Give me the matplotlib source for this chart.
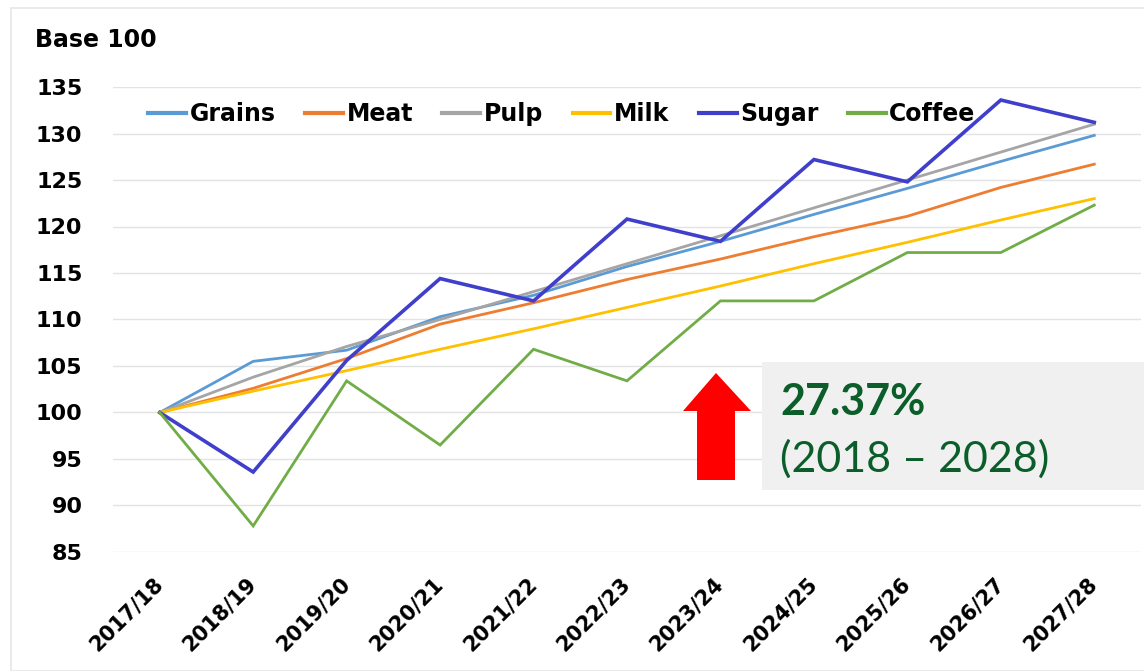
import matplotlib.pyplot as plt
import matplotlib.patches as mpatches

seasons = ['2017/18', '2018/19', '2019/20', '2020/21', '2021/22', '2022/23',
           '2023/24', '2024/25', '2025/26', '2026/27', '2027/28']

grains = [100, 105.5, 106.7, 110.3, 112.6, 115.7, 118.4, 121.3, 124.1, 127.0, 129.8]
meat = [100, 102.6, 105.8, 109.5, 111.8, 114.3, 116.5, 118.9, 121.1, 124.2, 126.7]
pulp = [100, 103.8, 107.1, 110.0, 113.0, 116.0, 119.0, 122.0, 125.0, 128.0, 131.0]
milk = [100, 102.3, 104.5, 106.8, 109.0, 111.3, 113.6, 116.0, 118.3, 120.7, 123.0]
sugar = [100, 93.6, 105.6, 114.4, 112.0, 120.8, 118.4, 127.2, 124.8, 133.6, 131.2]
coffee = [100, 87.8, 103.4, 96.5, 106.8, 103.4, 112.0, 112.0, 117.2, 117.2, 122.3]

series = [('Grains', grains, '#5B9BD5', 2.0),
          ('Meat', meat, '#ED7D31', 2.0),
          ('Pulp', pulp, '#A5A5A5', 2.0),
          ('Milk', milk, '#FFC000', 2.0),
          ('Sugar', sugar, '#3F3FCC', 2.6),
          ('Coffee', coffee, '#70AD47', 2.0)]

highlight = '27.37%'
period = '(2018 \u2013 2028)'

W, H = 1144, 671
FONT = 'DejaVu Sans'
fig = plt.figure(figsize=(W / 100, H / 100), dpi=100)
fig.patch.set_facecolor('white')

# thin frame round the chart
fig.add_artist(mpatches.Rectangle((11 / W, 0), 1.5, (H - 8) / H, transform=fig.transFigure,
                                  fill=False, edgecolor='#E6E6E6', linewidth=1.2))

ax = fig.add_axes([113 / W, 1 - 552 / H, (1141 - 113) / W, (552 - 87) / H])
x = list(range(len(seasons)))
for name, vals, col, lw in series:
    ax.plot(x, vals, color=col, linewidth=lw, label=name, solid_joinstyle='miter')

ax.set_xlim(-0.5, len(seasons) - 0.5)
ax.set_ylim(85, 135)
ax.set_yticks(range(85, 136, 5))
ax.set_xticks(x)
ax.set_xticklabels(seasons, rotation=45, ha='right', va='center', rotation_mode='anchor',
                   fontsize=15, fontweight='bold', family=FONT)
for lab in ax.get_yticklabels():
    lab.set_fontsize(16)
    lab.set_fontweight('bold')
    lab.set_family(FONT)
ax.tick_params(axis='both', length=0)
ax.tick_params(axis='y', pad=22)
ax.tick_params(axis='x', pad=21)
ax.grid(axis='y', color='#E3E3E3', linewidth=1)
ax.set_axisbelow(True)
for s in ax.spines.values():
    s.set_visible(False)

leg = ax.legend(loc='upper left', bbox_to_anchor=(14 / (1141 - 113), 1 + 6 / 465), ncol=6,
                frameon=False, handlelength=1.6, handletextpad=0.15, columnspacing=1.25,
                prop={'family': FONT, 'weight': 'bold', 'size': 17})
for h in leg.get_lines():
    h.set_linewidth(3)

fig.text(35 / W, 1 - 40 / H, 'Base 100', fontsize=17, fontweight='bold',
         family=FONT, va='center', ha='left')

# highlight box
fig.add_artist(mpatches.Rectangle((762 / W, 1 - 490 / H), (W - 762) / W, 128 / H,
                                  transform=fig.transFigure, facecolor='#F0F0F0',
                                  edgecolor='none'))
arrow = [(697, 480), (735, 480), (735, 411), (751, 411), (716, 373), (683, 411), (697, 411)]
fig.add_artist(mpatches.Polygon([(px / W, 1 - py / H) for px, py in arrow], closed=True,
                                transform=fig.transFigure, facecolor='#FF0000',
                                edgecolor='none'))
fig.text(780 / W, 1 - 402 / H, highlight, fontsize=31, fontweight='bold', color='#0B5E2A',
         family='Lato', va='center', ha='left')
fig.text(780 / W, 1 - 459 / H, period, fontsize=31, color='#0B5E2A',
         family='Lato', va='center', ha='left')

fig.savefig('out.png', dpi=100)
